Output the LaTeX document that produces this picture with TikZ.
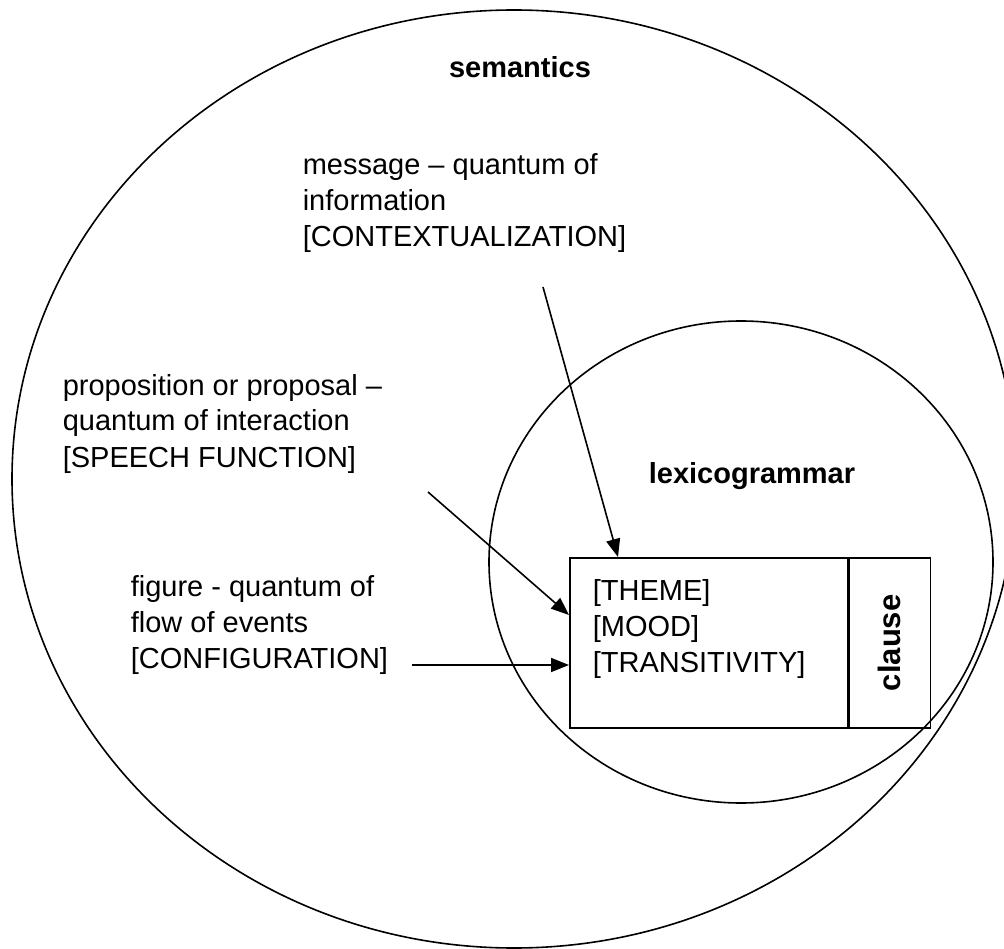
\documentclass[tikz,border=0pt]{standalone}
\usepackage{fontspec}
\setmainfont{Liberation Sans}
\usetikzlibrary{arrows.meta}
\begin{document}
\begin{tikzpicture}[x=1pt, y=-1pt, line width=1.6pt,
        lbl/.style = {align=left, anchor=base west, inner sep=0pt, font=\fontsize{29}{36}\selectfont},
        head/.style = {anchor=base, inner sep=0pt, font=\fontsize{29}{36}\selectfont\bfseries},
        cell/.style = {draw, anchor=north west, inner sep=0pt, minimum height=170pt},
        arr/.style = {-{Triangle[length=18pt, width=14pt]}}]
    \useasboundingbox (0,0) rectangle (1004,949);
    % the two strata
    \draw (514,479) ellipse [x radius=502pt, y radius=469pt];
    \draw (741,562) ellipse [x radius=252pt, y radius=241pt];
    \node[head] (sem) at (520,78) {semantics};
    \node[head] (lex) at (752,483) {lexicogrammar};
    % clause box
    \node[cell, minimum width=278pt] (box) at (569,557) {};
    \node[cell, minimum width=81pt] (clause) at (box.north east)
        {\rotatebox{90}{\fontsize{31}{36}\selectfont\bfseries clause}};
    \node[lbl] (sys) at (592,672) {[THEME]\\ {}[MOOD]\\ {}[TRANSITIVITY]};
    % semantic units (base = last line)
    \node[lbl] (msg) at (302,247) {message -- quantum of\\ information\\ {}[CONTEXTUALIZATION]};
    \node[lbl] (prop) at (62,467) {proposition or proposal --\\ quantum of interaction\\ {}[SPEECH FUNCTION]};
    \node[lbl] (fig) at (130,668) {figure - quantum of\\ flow of events\\ {}[CONFIGURATION]};
    \coordinate (m) at (543,287);
    \coordinate (p) at (428,492);
    \coordinate (f) at (412,665);
    \draw[arr] (m) -- ([xshift=49pt]box.north west);
    \draw[arr] (p) -- ([yshift=-58pt]box.north west);
    \draw[arr] (f) -- ([yshift=-108pt]box.north west);
\end{tikzpicture}
\end{document}
